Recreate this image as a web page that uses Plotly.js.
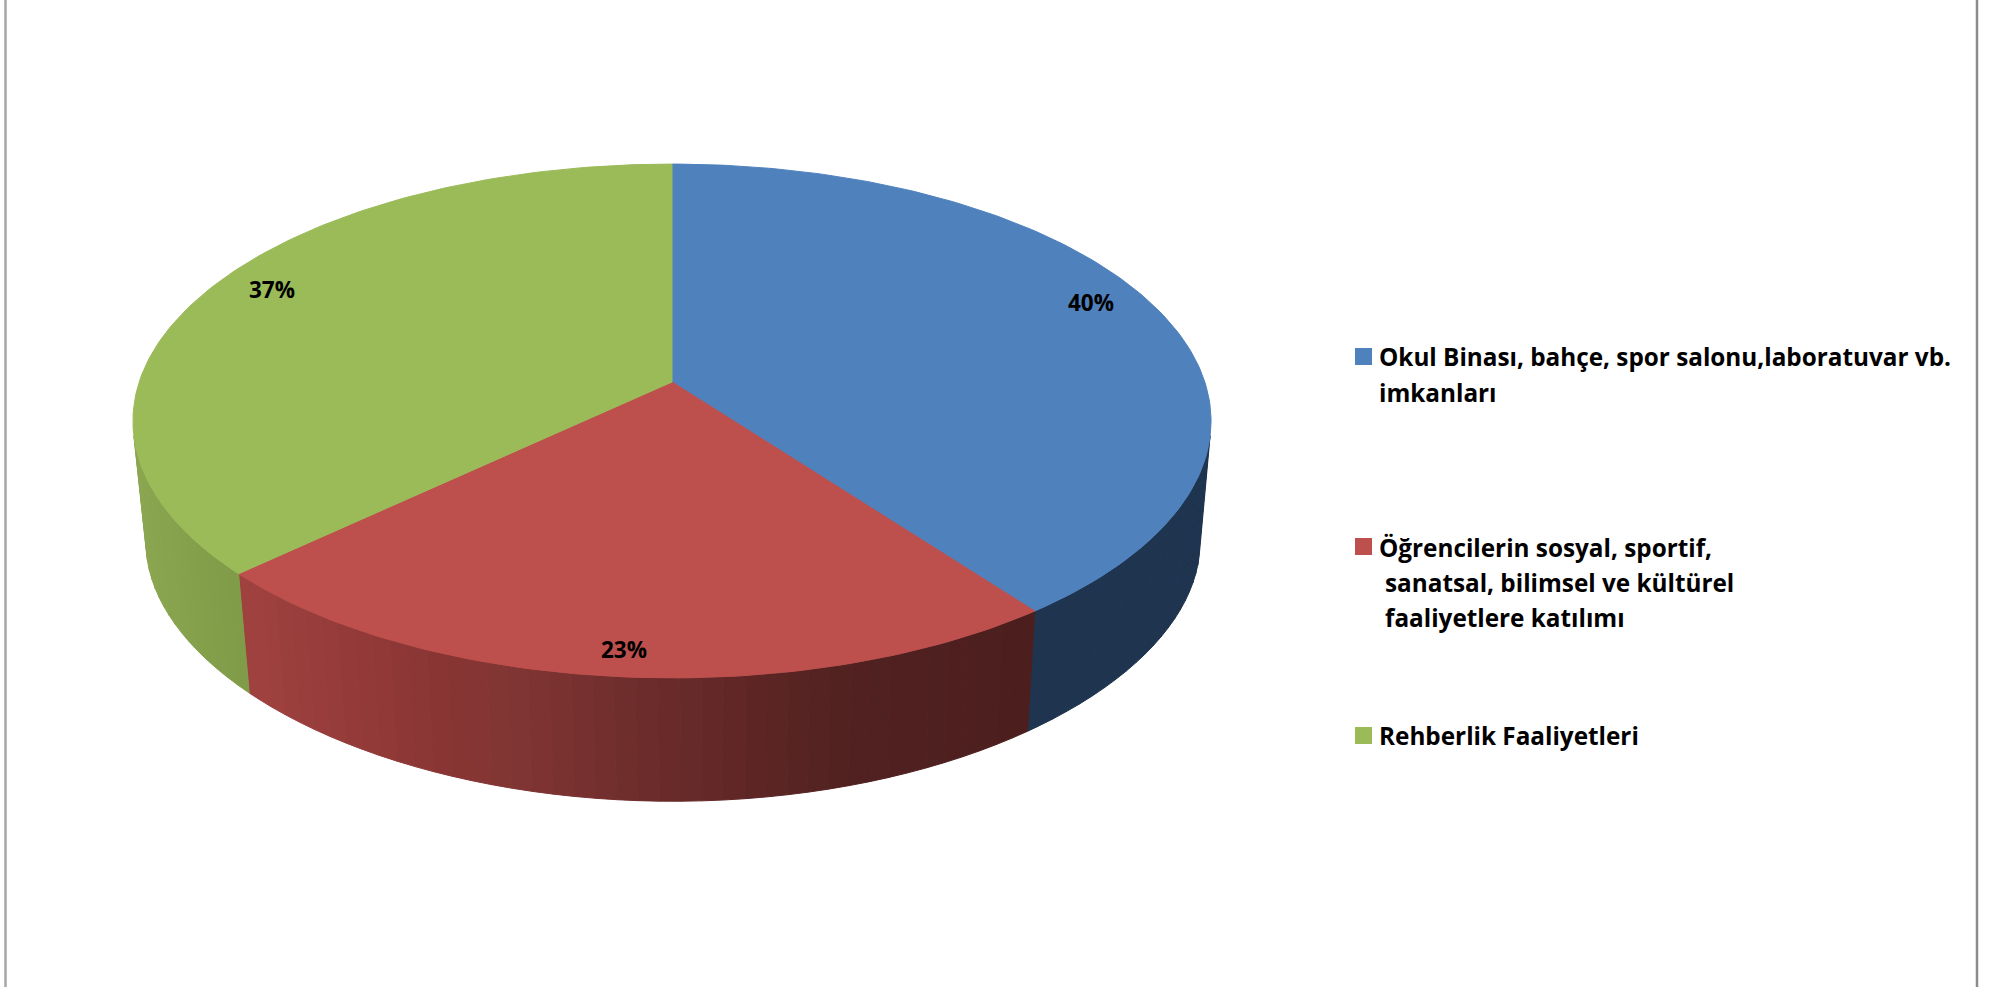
<!DOCTYPE html>
<html>
<head>
<meta charset="utf-8">
<script src="https://cdn.plot.ly/plotly-3.0.1.min.js"></script>
<style>html,body{margin:0;padding:0;background:#fff;overflow:hidden}</style>
</head>
<body>
<div id="chart" style="width:1993px;height:987px"></div>
<script>
// ---- data ----
const categories = ["Okul Binası, bahçe, spor salonu,laboratuvar vb. imkanları",
                    "Öğrencilerin sosyal, sportif, sanatsal, bilimsel ve kültürel faaliyetlere katılımı",
                    "Rehberlik Faaliyetleri"];
const values = [39.8, 23.2, 37];
const legendLines = [
  ["Okul Binası, bahçe, spor salonu,laboratuvar vb.", "imkanları"],
  ["Öğrencilerin sosyal, sportif,", "sanatsal, bilimsel ve kültürel", "faaliyetlere katılımı"],
  ["Rehberlik Faaliyetleri"]
];
const topColors = ["#4F81BD", "#BD4F4C", "#9BBB59"];

// ---- styling of the extruded wall (colour by page x) ----
const wallStops = [
  [[147,"#1F344F"],[1211,"#1F344F"]],
  [[249,"#9F413F"],[445,"#883533"],[500,"#823634"],[643,"#6C2C2B"],[860,"#502120"],[1030,"#4C1E1D"]],
  [[135,"#8BA650"],[190,"#84A04B"],[249,"#7F9A47"]]
];
const FONT = "'Open Sans', 'Noto Sans', sans-serif";

// ---- projection of the pie disc into the page ----
const P = 0.1518;
const topPlane = {cx:672, cy:382, s:532.8, q:251, px:P, py:P};
const basePlane = {cx:673, cy:505, s:520.9, q:237, px:P, py:0.2};
function project(pl, r, deg){
  const a = deg*Math.PI/180, X = r*Math.sin(a), Y = r*Math.cos(a);
  return [pl.cx + pl.s*X/(1+pl.px*Y), pl.cy - pl.q*Y/(1+pl.py*Y)];
}
function hex(c){return [1,3,5].map(i=>parseInt(c.substr(i,2),16));}
function colorAt(stops, x){
  if(x<=stops[0][0]) return stops[0][1];
  for(let i=1;i<stops.length;i++){
    if(x<=stops[i][0]){
      const t=(x-stops[i-1][0])/(stops[i][0]-stops[i-1][0]);
      const a=hex(stops[i-1][1]), b=hex(stops[i][1]);
      return "rgb("+a.map((v,k)=>Math.round(v+(b[k]-v)*t)).join(",")+")";
    }
  }
  return stops[stops.length-1][1];
}

// slice boundaries, clockwise from 12 o'clock
const total = values.reduce((a,b)=>a+b,0);
let acc = 0;
const slices = values.map(v=>{const s=acc/total*360; acc+=v; return {start:s,end:acc/total*360,mid:(s+acc/total*360)/2};});

const traces = [];
function poly(xs,ys,color){
  traces.push({type:"scatter",mode:"lines",x:xs,y:ys,fill:"toself",fillcolor:color,
    line:{color:color,width:1},hoverinfo:"skip",showlegend:false});
}
// walls: only the part of the rim that faces the viewer
const VIS0 = 102, VIS1 = 258, STEP = 2;
slices.forEach((sl,i)=>{
  const a0=Math.max(sl.start,VIS0), a1=Math.min(sl.end,VIS1);
  if(a1<=a0) return;
  for(let a=a0;a<a1;a+=STEP){
    const b=Math.min(a+STEP,a1), xs=[], ys=[];
    const pts=[project(topPlane,1,a),project(topPlane,1,b),project(basePlane,1,b),project(basePlane,1,a)];
    pts.forEach(p=>{xs.push(p[0]);ys.push(p[1]);});
    xs.push(pts[0][0]);ys.push(pts[0][1]);
    poly(xs,ys,colorAt(wallStops[i],(pts[0][0]+pts[1][0])/2));
  }
});
// top faces
slices.forEach((sl,i)=>{
  const c=project(topPlane,0,0), xs=[c[0]], ys=[c[1]];
  for(let a=sl.start;a<sl.end;a+=1){const p=project(topPlane,1,a);xs.push(p[0]);ys.push(p[1]);}
  const e=project(topPlane,1,sl.end);xs.push(e[0]);ys.push(e[1]);xs.push(c[0]);ys.push(c[1]);
  poly(xs,ys,topColors[i]);
});

// legend swatches
const legendX = 1363.5, legendTextX = 1377;
const legendY = [[356,392],[547,582,617],[735]], swatchY=[356.5,546.5,735.5];
const legendIndentBy = [[0,0],[0,6,6],[0]];
traces.push({type:"scatter",mode:"markers",x:categories.map(()=>legendX),y:swatchY,text:categories,
  marker:{symbol:"square",size:17,color:topColors,line:{width:0}},hoverinfo:"text",showlegend:false});

const annotations = [];
legendLines.forEach((lines,i)=>lines.forEach((t,j)=>{
  annotations.push({x:legendTextX+legendIndentBy[i][j],y:legendY[i][j],xref:"x",yref:"y",text:"<b>"+t+"</b>",
    showarrow:false,xanchor:"left",yanchor:"middle",font:{family:FONT,size:24.3,color:"#000"}});
}));
// percentage labels
const labelR=[0.87,0.92,0.86], labelNudge=[[-3,-13],[2,0],[0,-11]];
slices.forEach((sl,i)=>{
  const p=project(topPlane,labelR[i],sl.mid);
  annotations.push({x:p[0]+labelNudge[i][0],y:p[1]+labelNudge[i][1],xref:"x",yref:"y",
    text:"<b>"+Math.round(values[i]/total*100)+"%</b>",showarrow:false,xanchor:"center",yanchor:"middle",
    font:{family:FONT,size:22.5,color:"#000"}});
});

const layout = {
  width:1993,height:987,margin:{l:0,r:0,t:0,b:0,pad:0},
  paper_bgcolor:"#fff",plot_bgcolor:"#fff",showlegend:false,hovermode:"closest",
  xaxis:{range:[0,1993],visible:false,fixedrange:true},
  yaxis:{range:[987,0],visible:false,fixedrange:true},
  annotations:annotations,
  shapes:[
    {type:"line",xref:"x",yref:"y",x0:5.5,x1:5.5,y0:0,y1:987,line:{color:"#A6A6A6",width:2.5}},
    {type:"line",xref:"x",yref:"y",x0:1977,x1:1977,y0:0,y1:987,line:{color:"#8C8C8C",width:2.5}}
  ]
};
Plotly.newPlot("chart",traces,layout,{displayModeBar:false,responsive:false});
</script>
</body>
</html>
